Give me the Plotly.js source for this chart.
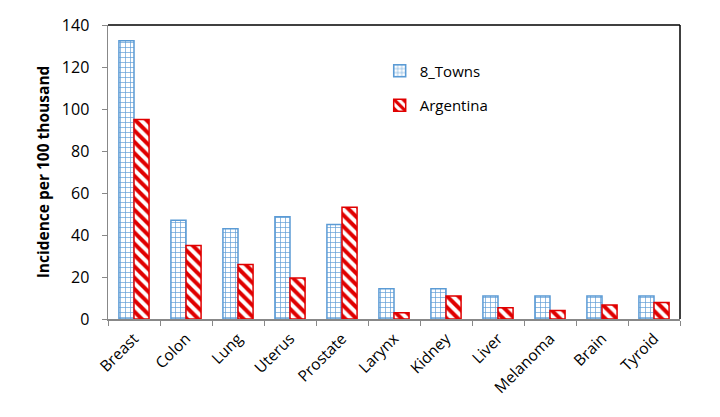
<!DOCTYPE html>
<html>
<head>
<meta charset="utf-8">
<script src="https://cdn.plot.ly/plotly-3.0.1.min.js"></script>
<style>
  html, body { margin: 0; padding: 0; background: #fff; }
  #chart { width: 720px; height: 417px; }
</style>
</head>
<body>
<div id="chart"></div>
<script>
// categories and values
const sites = ['Breast', 'Colon', 'Lung', 'Uterus', 'Prostate', 'Larynx',
               'Kidney', 'Liver', 'Melanoma', 'Brain', 'Tyroid'];
const towns = [132.5, 47, 43, 48.7, 45, 14.4, 14.4, 11, 11, 11, 11];
const argentina = [95, 35, 26, 19.5, 53.2, 3, 11, 5.4, 4, 6.7, 7.8];
const yTicks = [0, 20, 40, 60, 80, 100, 120, 140];

const font = 'Open Sans, Noto Sans, sans-serif';

const traces = [
  {
    type: 'bar', name: '8_Towns', x: sites, y: towns, legendgroup: 'towns',
    marker: {
      color: '#fff',
      line: { color: '#5B9BD5', width: 1.5 },
      pattern: { shape: '+', fgcolor: '#5B9BD5', bgcolor: '#fff', size: 5, solidity: 0.25 }
    }
  },
  {
    type: 'bar', name: 'Argentina', x: sites, y: argentina, legendgroup: 'arg',
    marker: {
      color: '#fff',
      line: { color: '#E00000', width: 1.5 },
      pattern: { shape: '\\', fgcolor: '#E00000', bgcolor: '#fff', size: 8, solidity: 0.5 }
    }
  }
];

const layout = {
  width: 720, height: 417,
  margin: { l: 108, r: 40, t: 25, b: 98 },
  paper_bgcolor: '#fff', plot_bgcolor: '#fff',
  barmode: 'group', bargap: 0.42, bargroupgap: 0,
  font: { family: font, size: 15, color: '#000' },
  showlegend: true,
  legend: {
    x: 0.475, y: 0.9, xanchor: 'left', yanchor: 'top',
    font: { family: font, size: 15 },
    tracegroupgap: 12, itemwidth: 30, bgcolor: 'rgba(0,0,0,0)'
  },
  xaxis: {
    type: 'category', tickangle: -45, tickson: 'boundaries',
    ticks: 'outside', ticklen: 5, tickcolor: '#888',
    showline: true, linecolor: '#888', linewidth: 1.5,
    showgrid: false, zeroline: false, ticklabelstandoff: 3,
    tickfont: { family: font, size: 15.5 }
  },
  yaxis: {
    range: [0, 140], tickvals: yTicks,
    ticks: 'outside', ticklen: 5, tickcolor: '#888',
    showline: true, linecolor: '#888', linewidth: 1.5,
    showgrid: false, zeroline: false, ticklabelstandoff: 9,
    tickfont: { family: font, size: 16 },
    title: { text: 'Incidence per 100 thousand', font: { family: font, size: 15.5, weight: 'bold' }, standoff: 8 }
  },
  shapes: [
    { type: 'line', xref: 'paper', yref: 'paper', x0: 0, x1: 1, y0: 1, y1: 1, line: { color: '#000', width: 1.5 } },
    { type: 'line', xref: 'paper', yref: 'paper', x0: 1, x1: 1, y0: 0, y1: 1, line: { color: '#000', width: 1.5 } }
  ]
};

Plotly.newPlot('chart', traces, layout, { displayModeBar: false, staticPlot: true });
</script>
</body>
</html>
